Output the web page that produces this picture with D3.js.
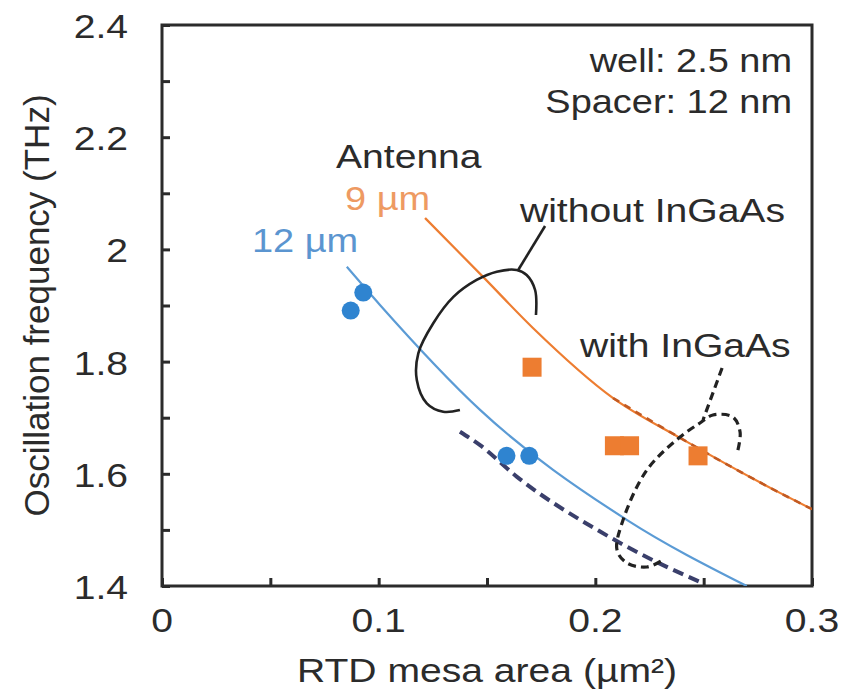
<!DOCTYPE html>
<html>
<head>
<meta charset="utf-8">
<script src="https://cdn.jsdelivr.net/npm/d3@7"></script>
<style>
  body { margin: 0; background: #fff; }
  text { font-family: Arial, "Liberation Sans", sans-serif; fill: #2b2b2b; }
</style>
</head>
<body>
<script>
const width = 844
const height = 691
const margin = { top: 25, right: 32, bottom: 105, left: 162 }
const sx = 1.15 // the picture is a bit wider than tall, so text is stretched

// Measured points
const blueX = [0.0871, 0.0929, 0.159, 0.1695]
const blueY = [1.891, 1.923, 1.632, 1.632]
const orangeX = [0.1708, 0.2088, 0.2158, 0.2474]
const orangeY = [1.790, 1.650, 1.650, 1.632]

// Calculated curves, antenna 12 um and 9 um
const fit12X = [0.0853, 0.1006, 0.1468, 0.2145, 0.2699]
const fit12Y = [1.969, 1.901, 1.714, 1.518, 1.400]
const fit9X = [0.1214, 0.1482, 0.1712, 0.2082, 0.2391, 0.2852, 0.3000]
const fit9Y = [2.056, 1.951, 1.860, 1.735, 1.664, 1.566, 1.537]
// with InGaAs
const fit12inX = [0.1375, 0.1468, 0.1637, 0.2022, 0.2266, 0.2497]
const fit12inY = [1.675, 1.651, 1.595, 1.497, 1.446, 1.405]
const fit9inX = [0.2082, 0.2391, 0.2852, 0.3000]
const fit9inY = [1.735, 1.664, 1.566, 1.537]

// Axis ticks
const xTicks = [0, 0.05, 0.1, 0.15, 0.2, 0.25, 0.3]
const xLabels = [0, 0.1, 0.2, 0.3]
const yTicks = [1.4, 1.5, 1.6, 1.7, 1.8, 1.9, 2.0, 2.1, 2.2, 2.3, 2.4]
const yLabels = [1.4, 1.6, 1.8, 2.0, 2.2, 2.4]

// Bracket shapes (data units)
const withoutLoopX = [0.1726, 0.1722, 0.1683, 0.1637, 0.1545, 0.1452, 0.1346, 0.1252, 0.1183, 0.1176, 0.1222, 0.1298, 0.1375]
const withoutLoopY = [1.8831, 1.9276, 1.9544, 1.9633, 1.9603, 1.9455, 1.9157, 1.8683, 1.8148, 1.7672, 1.7257, 1.7107, 1.7137]
const withoutLeadX = [0.1768, 0.1644]
const withoutLeadY = [2.0417, 1.9633]
const withLoopX = [0.2658, 0.2668, 0.2635, 0.2543, 0.2483, 0.2391, 0.2238, 0.2128, 0.2100, 0.2146, 0.2238, 0.2312]
const withLoopY = [1.6424, 1.6745, 1.7012, 1.7048, 1.6906, 1.6656, 1.6068, 1.5176, 1.4642, 1.4410, 1.4339, 1.4463]
const withLeadX = [0.2585, 0.2497]
const withLeadY = [1.7886, 1.6959]

const zip = (xs, ys) => xs.map((x, i) => [x, ys[i]])

const x = d3.scaleLinear().domain([0, 0.3]).range([margin.left, width - margin.right])
const y = d3.scaleLinear().domain([1.4, 2.4]).range([height - margin.bottom, margin.top])

const svg = d3.select('body').append('svg').attr('width', width).attr('height', height)

svg.append('clipPath').attr('id', 'plot')
  .append('rect')
  .attr('x', x(0)).attr('y', y(2.4))
  .attr('width', x(0.3) - x(0)).attr('height', y(1.4) - y(2.4))

function stretchText(g, px, py, str, size, anchor, color) {
  return g.append('text')
    .attr('transform', `translate(${px},${py}) scale(${sx},1)`)
    .attr('text-anchor', anchor)
    .style('font-size', size + 'px')
    .style('fill', color || '#2b2b2b')
    .text(str)
}

// Axes
const fmt = d => (Math.abs(d - 2) < 1e-9 ? '2' : d3.format('')(+d.toFixed(2)))

const xAxis = svg.append('g')
  .attr('transform', `translate(0,${y(1.4)})`)
  .call(d3.axisBottom(x).tickValues(xTicks).tickSize(-8).tickFormat(''))
const yAxis = svg.append('g')
  .attr('transform', `translate(${x(0)},0)`)
  .call(d3.axisLeft(y).tickValues(yTicks).tickSize(-8).tickFormat(''))

for (const g of [xAxis, yAxis]) {
  g.select('.domain').remove()
  g.selectAll('.tick line').attr('stroke', '#2b2b2b').attr('stroke-width', 3)
}

xLabels.forEach(d => stretchText(svg, x(d), y(1.4) + 46, d === 0 ? '0' : fmt(d), 34, 'middle'))
yLabels.forEach(d => stretchText(svg, x(0) - 34, y(d) + 13, fmt(d), 34, 'end'))

// Frame
svg.append('rect')
  .attr('x', x(0)).attr('y', y(2.4))
  .attr('width', x(0.3) - x(0)).attr('height', y(1.4) - y(2.4))
  .attr('fill', 'none').attr('stroke', '#2b2b2b').attr('stroke-width', 3)

// Axis titles
stretchText(svg, (x(0) + x(0.3)) / 2, 682, 'RTD mesa area (µm²)', 34, 'middle')
svg.append('text')
  .attr('transform', `translate(49,${(y(1.4) + y(2.4)) / 2}) rotate(-90)`)
  .attr('text-anchor', 'middle')
  .style('font-size', '35px')
  .text('Oscillation frequency (THz)')

const plot = svg.append('g').attr('clip-path', 'url(#plot)')

const smooth = d3.line().x(d => x(d[0])).y(d => y(d[1])).curve(d3.curveMonotoneX)
const loop = d3.line().x(d => x(d[0])).y(d => y(d[1])).curve(d3.curveCatmullRom)

// Curves
plot.append('path').datum(zip(fit12X, fit12Y)).attr('d', smooth)
  .attr('fill', 'none').attr('stroke', '#5b9bd5').attr('stroke-width', 2.2)
plot.append('path').datum(zip(fit9X, fit9Y)).attr('d', smooth)
  .attr('fill', 'none').attr('stroke', '#ed7d31').attr('stroke-width', 2.2)
plot.append('path').datum(zip(fit9inX, fit9inY)).attr('d', smooth)
  .attr('fill', 'none').attr('stroke', '#c25a22').attr('stroke-width', 2.6)
  .attr('stroke-dasharray', '7,6')
plot.append('path').datum(zip(fit12inX, fit12inY)).attr('d', smooth)
  .attr('fill', 'none').attr('stroke', '#3a3f6b').attr('stroke-width', 4)
  .attr('stroke-dasharray', '11,6')

// Brackets
plot.append('path').datum(zip(withoutLoopX, withoutLoopY)).attr('d', loop)
  .attr('fill', 'none').attr('stroke', '#222').attr('stroke-width', 2.6)
plot.append('path').datum(zip(withoutLeadX, withoutLeadY)).attr('d', loop)
  .attr('fill', 'none').attr('stroke', '#222').attr('stroke-width', 2.6)
plot.append('path').datum(zip(withLoopX, withLoopY)).attr('d', loop)
  .attr('fill', 'none').attr('stroke', '#222').attr('stroke-width', 3.2)
  .attr('stroke-dasharray', '8,5')
plot.append('path').datum(zip(withLeadX, withLeadY)).attr('d', loop)
  .attr('fill', 'none').attr('stroke', '#222').attr('stroke-width', 3.2)
  .attr('stroke-dasharray', '8,5')

// Markers
plot.selectAll('circle.m12')
  .data(zip(blueX, blueY))
  .join('circle')
  .attr('class', 'm12')
  .attr('cx', d => x(d[0])).attr('cy', d => y(d[1]))
  .attr('r', 9)
  .attr('fill', '#2f84d0')

const side = 19
plot.selectAll('rect.m9')
  .data(zip(orangeX, orangeY))
  .join('rect')
  .attr('class', 'm9')
  .attr('x', d => x(d[0]) - side / 2).attr('y', d => y(d[1]) - side / 2)
  .attr('width', side).attr('height', side)
  .attr('fill', '#ed7d31')

// Annotations
stretchText(svg, x(0.2908), y(2.316), 'well: 2.5 nm', 33, 'end')
stretchText(svg, x(0.2908), y(2.243), 'Spacer: 12 nm', 33, 'end')
stretchText(svg, x(0.0803), y(2.145), 'Antenna', 34, 'start')
stretchText(svg, x(0.0845), y(2.070), '9 µm', 33, 'start', '#ee9a62')
stretchText(svg, x(0.0415), y(1.995), '12 µm', 33, 'start', '#5b95d0')
stretchText(svg, x(0.1652), y(2.049), 'without InGaAs', 34, 'start')
stretchText(svg, x(0.1929), y(1.808), 'with InGaAs', 34, 'start')
</script>
</body>
</html>
